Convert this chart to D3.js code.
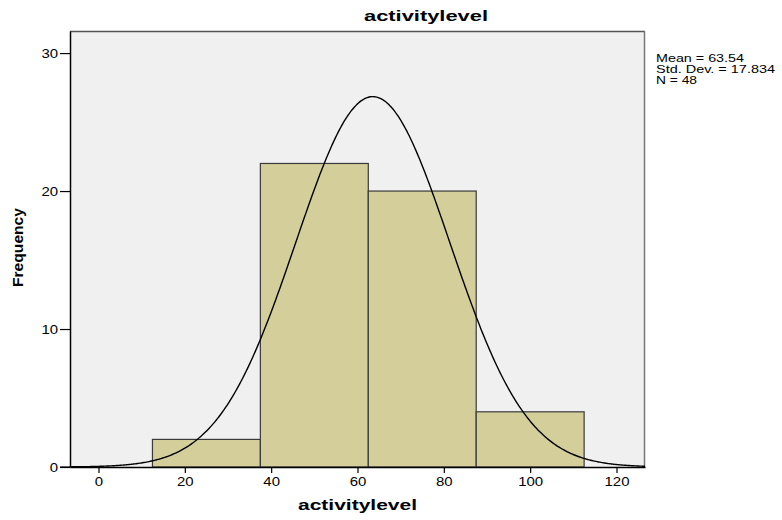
<!DOCTYPE html>
<html>
<head>
<meta charset="utf-8">
<script src="https://cdn.jsdelivr.net/npm/d3@7"></script>
<style>
  html, body { margin: 0; padding: 0; background: #fff; }
  text { font-family: "Liberation Sans", Arial, sans-serif; }
</style>
</head>
<body>
<svg id="chart" width="782" height="520"></svg>
<script>
// ---- data ----
const binStarts = [12.5, 37.5, 62.5, 87.5];
const binEnds   = [37.5, 62.5, 87.5, 112.5];
const frequencies = [2, 22, 20, 4];
const xTicks = [0, 20, 40, 60, 80, 100, 120];
const yTicks = [0, 10, 20, 30];
const stats = { mean: 63.54, sd: 17.834, n: 48 };
const legendLines = ["Mean = 63.54", "Std. Dev. = 17.834", "N = 48"];
const titleText = "activitylevel";
const xLabel = "activitylevel";
const yLabel = "Frequency";

// ---- layout ----
const svg = d3.select("#chart");
const pL = 70, pR = 645, pT = 31, pB = 467;
const x = d3.scaleLinear().domain([-6.6, 126.6]).range([pL, pR]);
const y = d3.scaleLinear().domain([0, 31.6]).range([pB, pT]);

function stretch(sel, factor) {
  sel.each(function() {
    const w = this.getComputedTextLength();
    d3.select(this).attr("textLength", w * factor).attr("lengthAdjust", "spacingAndGlyphs");
  });
}

// plot background
svg.append("rect").attr("x", pL).attr("y", pT)
  .attr("width", pR - pL).attr("height", pB - pT)
  .attr("fill", "#F0F0F0");

// top / right frame
svg.append("line").attr("x1", pL).attr("x2", pR).attr("y1", pT + 0.5).attr("y2", pT + 0.5)
  .attr("stroke", "#555").attr("stroke-width", 1.5);
svg.append("line").attr("x1", pR - 0.5).attr("x2", pR - 0.5).attr("y1", pT).attr("y2", pB)
  .attr("stroke", "#777").attr("stroke-width", 1.5);

// bars
const bins = frequencies.map((f, i) => ({ x0: binStarts[i], x1: binEnds[i], f }));
svg.append("g").selectAll("rect").data(bins).join("rect")
  .attr("x", d => x(d.x0))
  .attr("y", d => y(d.f))
  .attr("width", d => x(d.x1) - x(d.x0))
  .attr("height", d => y(0) - y(d.f))
  .attr("fill", "#D3CE9A")
  .attr("stroke", "#3A3A3A")
  .attr("stroke-width", 1.2);

// normal curve from summary statistics
const binWidth = binEnds[0] - binStarts[0];
const scaleK = stats.n * binWidth / (stats.sd * Math.sqrt(2 * Math.PI));
const xs = d3.range(-6.6, 126.7, 0.3);
const curve = xs.map(v => [v, scaleK * Math.exp(-0.5 * Math.pow((v - stats.mean) / stats.sd, 2))]);
svg.append("path")
  .datum(curve)
  .attr("fill", "none")
  .attr("stroke", "#000")
  .attr("stroke-width", 1.4)
  .attr("d", d3.line().x(d => x(d[0])).y(d => y(d[1])).curve(d3.curveBasis));

// axes
const yAxis = svg.append("g").attr("transform", `translate(${pL},0)`)
  .call(d3.axisLeft(y).tickValues(yTicks).tickSize(10).tickSizeOuter(0).tickPadding(2));
yAxis.select(".domain").attr("stroke", "#000").attr("stroke-width", 1.5);
yAxis.selectAll(".tick line").attr("stroke", "#000").attr("stroke-width", 1.2);
yAxis.selectAll(".tick text").attr("font-size", 13).attr("fill", "#000")
  .attr("font-family", "Liberation Sans, Arial, sans-serif").call(stretch, 1.15);

const xAxis = svg.append("g").attr("transform", `translate(0,${pB})`)
  .call(d3.axisBottom(x).tickValues(xTicks).tickSize(6).tickSizeOuter(0).tickPadding(4));
xAxis.select(".domain").attr("stroke", "#000").attr("stroke-width", 1.5);
xAxis.selectAll(".tick line").attr("stroke", "#000").attr("stroke-width", 1.2);
xAxis.selectAll(".tick text").attr("font-size", 13).attr("fill", "#000")
  .attr("font-family", "Liberation Sans, Arial, sans-serif").call(stretch, 1.15);
// extend x axis line to the y tick at 0
svg.append("line").attr("x1", pL - 10).attr("x2", pL).attr("y1", pB).attr("y2", pB)
  .attr("stroke", "#000").attr("stroke-width", 1.2);

// title
svg.append("text").attr("x", 426).attr("y", 21).attr("text-anchor", "middle")
  .attr("font-size", 15).attr("font-weight", "bold").text(titleText)
  .attr("textLength", 124).attr("lengthAdjust", "spacingAndGlyphs");

// x label
svg.append("text").attr("x", 357.5).attr("y", 510).attr("text-anchor", "middle")
  .attr("font-size", 15).attr("font-weight", "bold").text(xLabel)
  .attr("textLength", 119).attr("lengthAdjust", "spacingAndGlyphs");

// y label
svg.append("text").attr("transform", "translate(23,247.5) rotate(-90)")
  .attr("text-anchor", "middle")
  .attr("font-size", 15).attr("font-weight", "bold").text(yLabel)
  .attr("textLength", 79).attr("lengthAdjust", "spacingAndGlyphs");

// legend
const legendWidths = [88, 119, 41];
svg.append("g").selectAll("text").data(legendLines).join("text")
  .attr("x", 656)
  .attr("y", (d, i) => 62.3 + i * 10.9)
  .attr("font-size", 11)
  .attr("fill", "#000")
  .text(d => d)
  .attr("textLength", (d, i) => legendWidths[i])
  .attr("lengthAdjust", "spacingAndGlyphs");
</script>
</body>
</html>
